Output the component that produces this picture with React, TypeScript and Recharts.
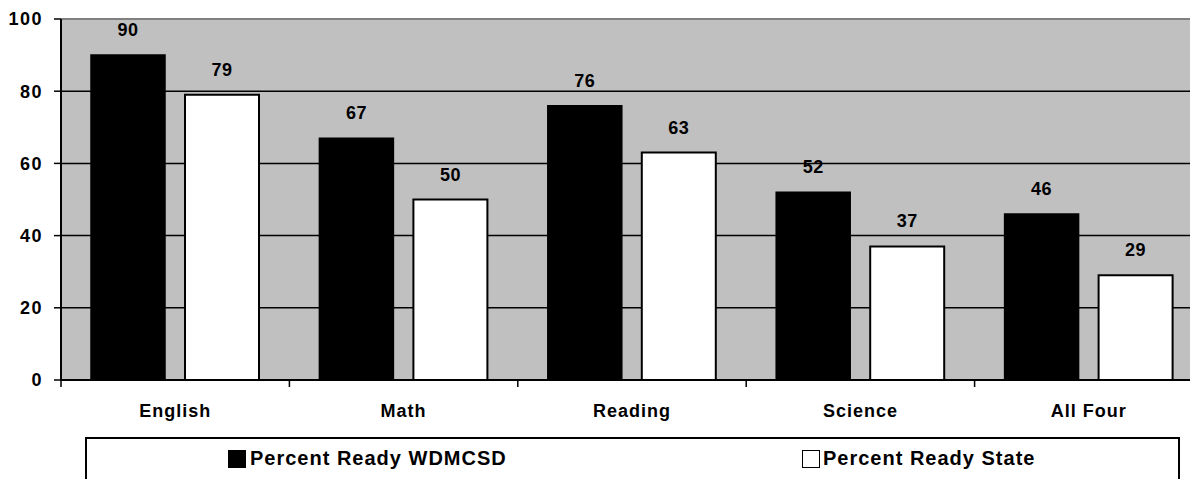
import { BarChart, Bar, XAxis, YAxis, CartesianGrid, LabelList, ReferenceLine } from 'recharts';

const categories = ['English', 'Math', 'Reading', 'Science', 'All Four'];
const districtValues = [90, 67, 76, 52, 46];
const stateValues = [79, 50, 63, 37, 29];
const yTicks = [0, 20, 40, 60, 80, 100];
const seriesNames = ['Percent Ready WDMCSD', 'Percent Ready State'];

const FONT = '"Liberation Sans", Arial, sans-serif';
const W = 1190;
const H = 479;
// plot runs past the right edge in the original, so right margin is negative
const PLOT_LEFT = 61;
const PLOT_RIGHT_OVER = 13;
const BAND = (W - PLOT_LEFT + PLOT_RIGHT_OVER) / categories.length;

const data = categories.map((c, i) => ({
  name: c,
  district: districtValues[i],
  state: stateValues[i],
}));

// category label in the middle, tick mark on the left boundary of the band
function CategoryTick(props: any) {
  const { x, y, payload } = props;
  const left = x - BAND / 2;
  return (
    <g>
      <line x1={left} y1={y - 7} x2={left} y2={y} stroke="#000" strokeWidth={1.5} />
      <text
        x={x}
        y={y + 30}
        textAnchor="middle"
        fontFamily={FONT}
        fontSize={18}
        fontWeight="bold"
        letterSpacing={1}
        fill="#000"
      >
        {payload.value}
      </text>
    </g>
  );
}

const labelProps = {
  position: 'top' as const,
  offset: 19,
  fill: '#000',
  fontFamily: FONT,
  fontSize: 18,
  fontWeight: 'bold',
  letterSpacing: 0.5,
};

export default function App() {
  return (
    <div style={{ position: 'absolute', left: 0, top: 0, width: W, height: H, background: '#fff', overflow: 'hidden' }}>
      <BarChart
        width={W}
        height={H}
        data={data}
        margin={{ top: 19, right: -PLOT_RIGHT_OVER, left: 0, bottom: 62 }}
        barCategoryGap={30}
        barGap={20}
      >
        <CartesianGrid vertical={false} stroke="#000" strokeWidth={1.5} fill="#C0C0C0" fillOpacity={1} />
        <XAxis
          dataKey="name"
          axisLine={{ stroke: '#000', strokeWidth: 2 }}
          tickLine={false}
          tickSize={7}
          tickMargin={0}
          height={37}
          interval={0}
          tick={<CategoryTick />}
        />
        <YAxis
          width={PLOT_LEFT}
          domain={[0, 100]}
          ticks={yTicks}
          interval={0}
          axisLine={{ stroke: '#000', strokeWidth: 2 }}
          tickLine={{ stroke: '#000', strokeWidth: 1.5 }}
          tickSize={7}
          tickMargin={11}
          tick={{ fill: '#000', fontFamily: FONT, fontSize: 18, fontWeight: 'bold', letterSpacing: 1.5 }}
        />
        <ReferenceLine y={100} stroke="#808080" strokeWidth={2} />
        <Bar dataKey="district" name={seriesNames[0]} fill="#000" stroke="#000" strokeWidth={1.5} isAnimationActive={false}>
          <LabelList dataKey="district" {...labelProps} />
        </Bar>
        <Bar dataKey="state" name={seriesNames[1]} fill="#fff" stroke="#000" strokeWidth={2} isAnimationActive={false}>
          <LabelList dataKey="state" {...labelProps} />
        </Bar>
      </BarChart>

      <div
        style={{
          position: 'absolute',
          left: 85,
          top: 437,
          width: 1095,
          height: 60,
          border: '2px solid #000',
          boxSizing: 'border-box',
          background: '#fff',
          fontFamily: FONT,
          fontSize: 20,
          fontWeight: 'bold',
          letterSpacing: 1,
          lineHeight: '20px',
          color: '#000',
        }}
      >
        <div style={{ position: 'absolute', left: 228 - 87, top: 450 - 439, width: 18, height: 18, background: '#000' }} />
        <span style={{ position: 'absolute', left: 250 - 87, top: 448 - 439, whiteSpace: 'nowrap' }}>{seriesNames[0]}</span>
        <div
          style={{
            position: 'absolute',
            left: 802 - 87,
            top: 450 - 439,
            width: 18,
            height: 18,
            background: '#fff',
            border: '1.5px solid #000',
            boxSizing: 'border-box',
          }}
        />
        <span style={{ position: 'absolute', left: 823 - 87, top: 448 - 439, whiteSpace: 'nowrap' }}>{seriesNames[1]}</span>
      </div>
    </div>
  );
}
